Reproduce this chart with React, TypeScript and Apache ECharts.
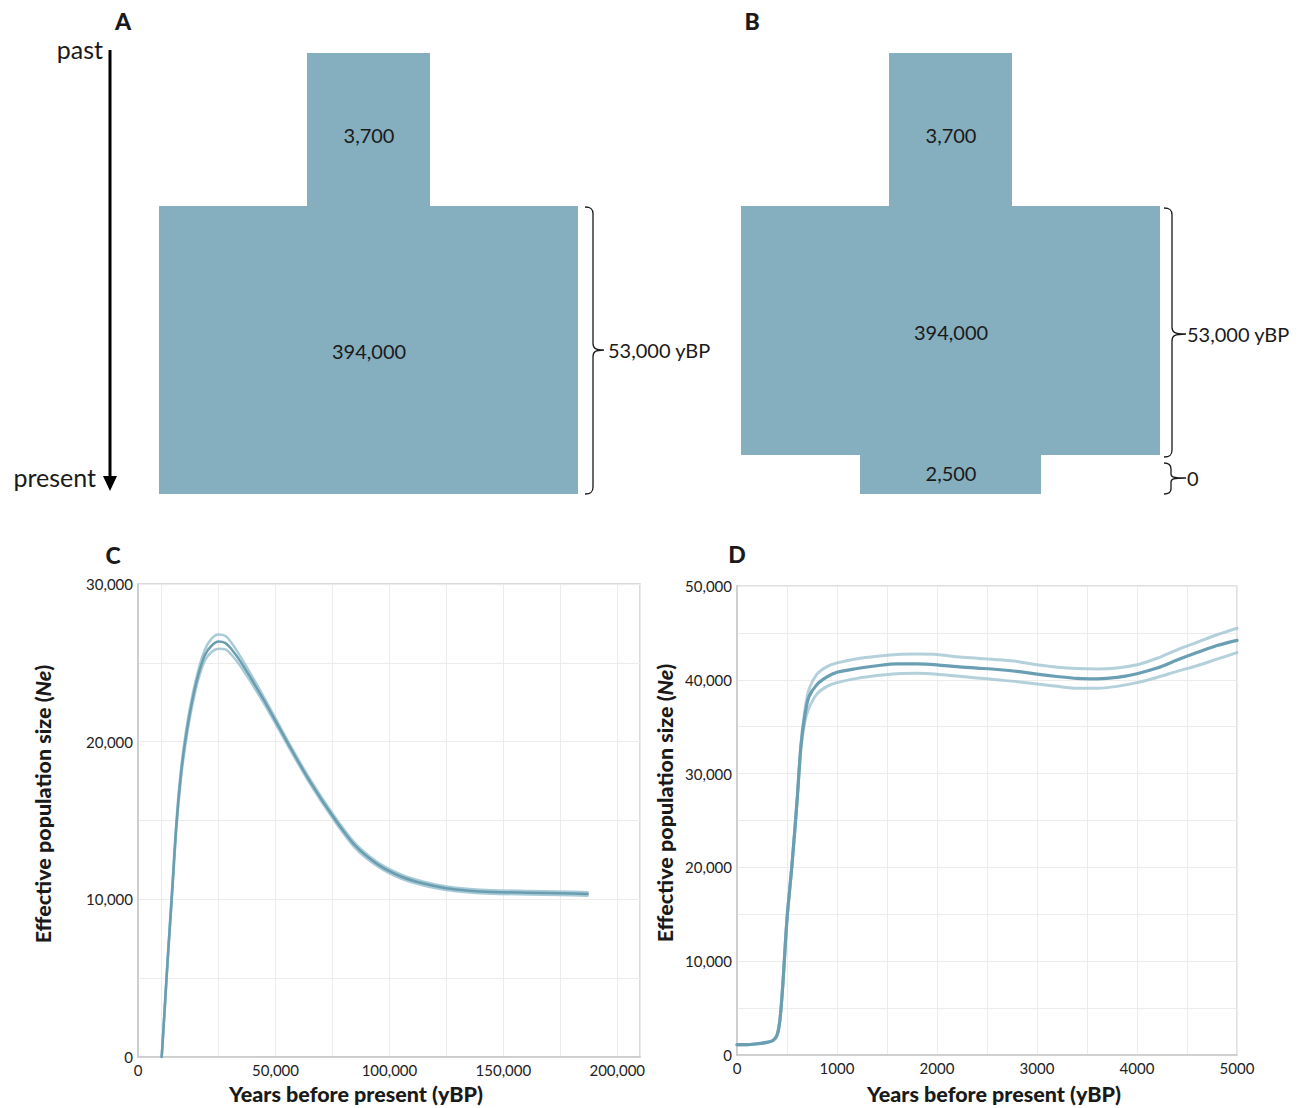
import React, { useEffect, useRef } from "react";
import * as echarts from "echarts";

// ---------- Panel A / B schematic labels ----------
const panelLetters = ["A", "B", "C", "D"];
const sizesA = ["3,700", "394,000"];
const sizesB = ["3,700", "394,000", "2,500"];
const timeLabels = ["53,000 yBP", "0"];
const arrowLabels = ["past", "present"];

// ---------- Panel C (Ne through time) ----------
const yearsC = [0, 1000, 2000, 3000, 4500, 6500, 8500, 10500, 13000, 16000, 19000, 22000, 25000, 28000, 31000, 35000, 45000, 55000, 65000, 75000, 85000, 95000, 105000, 115000, 125000, 135000, 145000, 160000, 175000, 187000];
const neC = [0, 2300, 4700, 7000, 10300, 14800, 18000, 20200, 22300, 24200, 25500, 26100, 26350, 26250, 25800, 25000, 22600, 20000, 17500, 15300, 13400, 12200, 11450, 11000, 10700, 10550, 10470, 10420, 10380, 10340];
const neCUpper = [0, 2350, 4800, 7150, 10500, 15050, 18300, 20500, 22600, 24500, 25850, 26550, 26800, 26700, 26200, 25300, 22800, 20150, 17650, 15450, 13550, 12330, 11580, 11120, 10810, 10660, 10580, 10530, 10490, 10450];
const neCLower = [0, 2250, 4600, 6850, 10100, 14550, 17700, 19900, 22000, 23900, 25150, 25700, 25900, 25850, 25450, 24700, 22400, 19850, 17350, 15150, 13250, 12070, 11320, 10880, 10590, 10440, 10360, 10310, 10270, 10230];

// ---------- Panel D (Ne through time) ----------
const yearsD = [0, 100, 200, 300, 360, 400, 430, 460, 500, 550, 600, 640, 680, 720, 800, 900, 1000, 1200, 1400, 1600, 1800, 2000, 2200, 2400, 2600, 2800, 3000, 3200, 3400, 3600, 3800, 4000, 4200, 4400, 4600, 4800, 5000];
const neD = [1100, 1100, 1200, 1350, 1550, 2100, 3800, 7800, 14500, 20300, 27000, 33000, 36300, 38200, 39500, 40300, 40800, 41200, 41500, 41700, 41700, 41600, 41400, 41250, 41100, 40900, 40600, 40350, 40150, 40100, 40250, 40650, 41250, 42100, 42900, 43650, 44200];
const neDUpper = [1100, 1100, 1200, 1350, 1550, 2100, 3800, 7800, 14500, 20300, 27000, 33200, 36900, 39000, 40600, 41400, 41800, 42250, 42500, 42700, 42750, 42700, 42450, 42300, 42150, 41950, 41600, 41350, 41200, 41150, 41250, 41600, 42300, 43200, 44000, 44800, 45500];
const neDLower = [1100, 1100, 1200, 1350, 1550, 2100, 3800, 7800, 14500, 20300, 27000, 32800, 35600, 37000, 38500, 39300, 39700, 40150, 40450, 40650, 40700, 40600, 40400, 40200, 40000, 39800, 39550, 39300, 39100, 39100, 39300, 39700, 40250, 40900, 41500, 42200, 42900];

const xTitle = "Years before present (yBP)";
const yTitle = "Effective population size ({i|Ne})";

const FONT = "Lato, 'Open Sans', sans-serif";
const BLOCK = "#85aebf";
const INK = "#1a1a1a";

const fmt = (v: number) => v.toLocaleString("en-US");
const pairs = (xs: number[], ys: number[]) => xs.map((x, i) => [x, ys[i]]);

// curly braces
const braceA = "M 585 207 C 591 207 593 209 593 214 L 593 343 C 593 348 595 350 604 350 M 604 350 C 595 350 593 352 593 357 L 593 487 C 593 492 591 494 585 494";
const braceB1 = "M 1164 208 C 1170 208 1172 210 1172 215 L 1172 327 C 1172 332 1174 334 1186 334 M 1186 334 C 1174 334 1172 336 1172 341 L 1172 450 C 1172 455 1170 457 1164 457";
const braceB2 = "M 1164 463 C 1169 463 1171 465 1171 469 L 1171 474 C 1171 477 1173 478 1186 478 M 1186 478 C 1173 478 1171 479 1171 482 L 1171 489 C 1171 492 1169 494 1164 494";
echarts.graphic.registerShape("braceA", echarts.graphic.extendPath(braceA, {}));
echarts.graphic.registerShape("braceB1", echarts.graphic.extendPath(braceB1, {}));
echarts.graphic.registerShape("braceB2", echarts.graphic.extendPath(braceB2, {}));

function txt(x: number, y: number, text: string, size: number, opts: any = {}) {
  return {
    type: "text",
    x,
    y,
    rotation: opts.rotation || 0,
    style: {
      text,
      fontSize: size,
      fontFamily: FONT,
      fontWeight: opts.bold ? 900 : "normal",
      fill: INK,
      align: opts.align || "center",
      verticalAlign: "middle",
      rich: opts.rich,
    },
  };
}

const richNe = { i: { fontStyle: "italic", fontWeight: 900, fontSize: 21.5, fontFamily: FONT, fill: INK } };

const lineSeries = (xi: number, data: number[][], color: string, width: number, z: number) => ({
  type: "line",
  xAxisIndex: xi,
  yAxisIndex: xi,
  data,
  showSymbol: false,
  smooth: 0.3,
  z,
  lineStyle: { color, width, cap: "round", join: "round" },
  emphasis: { disabled: true },
});

const axisLabelStyle = { color: "#222", fontSize: 15, fontFamily: FONT };
const gridLine = { show: true, lineStyle: { color: "#ececec", width: 1 } };
const axisLineStyle = { show: true, onZero: false, lineStyle: { color: "#c9c9c9", width: 1.5 } };

export default function App() {
  const ref = useRef<HTMLDivElement>(null);
  useEffect(() => {
    if (!ref.current) return;
    const chart = echarts.init(ref.current, undefined, { renderer: "svg" });
    const graphic: any[] = [
      // Panel A
      txt(123, 21, panelLetters[0], 23, { bold: true }),
      { type: "rect", shape: { x: 307, y: 53, width: 123, height: 154 }, style: { fill: BLOCK } },
      { type: "rect", shape: { x: 159, y: 206, width: 419, height: 288 }, style: { fill: BLOCK } },
      txt(369, 135, sizesA[0], 20),
      txt(369, 351, sizesA[1], 20),
      { type: "braceA", style: { fill: "none", stroke: INK, lineWidth: 1.3 } },
      txt(608, 350, timeLabels[0], 20, { align: "left" }),
      { type: "line", shape: { x1: 110, y1: 50, x2: 110, y2: 478 }, style: { stroke: "#000", lineWidth: 3 } },
      { type: "polygon", shape: { points: [[103, 476], [117, 476], [110, 491]] }, style: { fill: "#000" } },
      txt(103, 49, arrowLabels[0], 25, { align: "right" }),
      txt(96, 477, arrowLabels[1], 25, { align: "right" }),
      // Panel B
      txt(752, 21, panelLetters[1], 23, { bold: true }),
      { type: "rect", shape: { x: 889, y: 53, width: 123, height: 154 }, style: { fill: BLOCK } },
      { type: "rect", shape: { x: 741, y: 206, width: 419, height: 249 }, style: { fill: BLOCK } },
      { type: "rect", shape: { x: 860, y: 454, width: 181, height: 40 }, style: { fill: BLOCK } },
      txt(951, 135, sizesB[0], 20),
      txt(951, 332, sizesB[1], 20),
      txt(951, 473, sizesB[2], 20),
      { type: "braceB1", style: { fill: "none", stroke: INK, lineWidth: 1.3 } },
      { type: "braceB2", style: { fill: "none", stroke: INK, lineWidth: 1.3 } },
      txt(1187, 334, timeLabels[0], 20, { align: "left" }),
      txt(1187, 478, timeLabels[1], 20, { align: "left" }),
      // Panel C / D letters and axis titles
      txt(113, 555, panelLetters[2], 23, { bold: true }),
      txt(737, 554, panelLetters[3], 23, { bold: true }),
      txt(356, 1094, xTitle, 21.5, { bold: true }),
      txt(994, 1094, xTitle, 21.5, { bold: true }),
      txt(43, 804, yTitle, 21.5, { bold: true, rotation: Math.PI / 2, rich: richNe }),
      txt(665, 803, yTitle, 21.5, { bold: true, rotation: Math.PI / 2, rich: richNe }),
    ];

    chart.setOption({
      animation: false,
      backgroundColor: "#ffffff",
      textStyle: { fontFamily: FONT },
      grid: [
        { left: 138, top: 584, width: 502, height: 473, show: true, borderColor: "#cfcfcf", borderWidth: 1.5 },
        { left: 737, top: 586, width: 500, height: 469, show: true, borderColor: "#d6d6d6", borderWidth: 1.5 },
      ],
      xAxis: [
        {
          type: "value",
          gridIndex: 0,
          min: -10400,
          max: 210000,
          splitNumber: 5,
          axisLine: axisLineStyle,
          axisTick: { show: false },
          axisLabel: {
            ...axisLabelStyle,
            margin: 5,
            showMinLabel: true,
            showMaxLabel: true,
            formatter: (v: number) => (v === -10400 ? "0" : v > 0 && v <= 200000 ? fmt(v) : ""),
          },
          splitLine: gridLine,
          minorTick: { show: false, splitNumber: 2 },
          minorSplitLine: gridLine,
        },
        {
          type: "value",
          gridIndex: 1,
          min: 0,
          max: 5000,
          interval: 500,
          axisLine: axisLineStyle,
          axisTick: { show: false },
          axisLabel: { ...axisLabelStyle, margin: 5, formatter: (v: number) => (v % 1000 === 0 ? String(v) : "") },
          splitLine: gridLine,
        },
      ],
      yAxis: [
        {
          type: "value",
          gridIndex: 0,
          min: 0,
          max: 30000,
          interval: 5000,
          axisLine: axisLineStyle,
          axisTick: { show: false },
          axisLabel: { ...axisLabelStyle, margin: 5, formatter: (v: number) => (v % 10000 === 0 ? fmt(v) : "") },
          splitLine: gridLine,
        },
        {
          type: "value",
          gridIndex: 1,
          min: 0,
          max: 50000,
          interval: 5000,
          axisLine: axisLineStyle,
          axisTick: { show: false },
          axisLabel: { ...axisLabelStyle, margin: 5, formatter: (v: number) => (v % 10000 === 0 ? fmt(v) : "") },
          splitLine: gridLine,
        },
      ],
      series: [
        lineSeries(0, pairs(yearsC, neCUpper), "rgba(140,185,202,0.75)", 2.5, 2),
        lineSeries(0, pairs(yearsC, neCLower), "rgba(140,185,202,0.75)", 2.5, 2),
        lineSeries(0, pairs(yearsC, neC), "#6b9db1", 2.5, 3),
        lineSeries(1, pairs(yearsD, neDUpper), "rgba(160,196,210,0.8)", 3, 2),
        lineSeries(1, pairs(yearsD, neDLower), "rgba(160,196,210,0.8)", 3, 2),
        lineSeries(1, pairs(yearsD, neD), "#6a9fb3", 3.2, 3),
      ],
      graphic,
    });
    return () => chart.dispose();
  }, []);
  return <div ref={ref} style={{ position: "fixed", left: 0, top: 0, width: 1301, height: 1108 }} />;
}
